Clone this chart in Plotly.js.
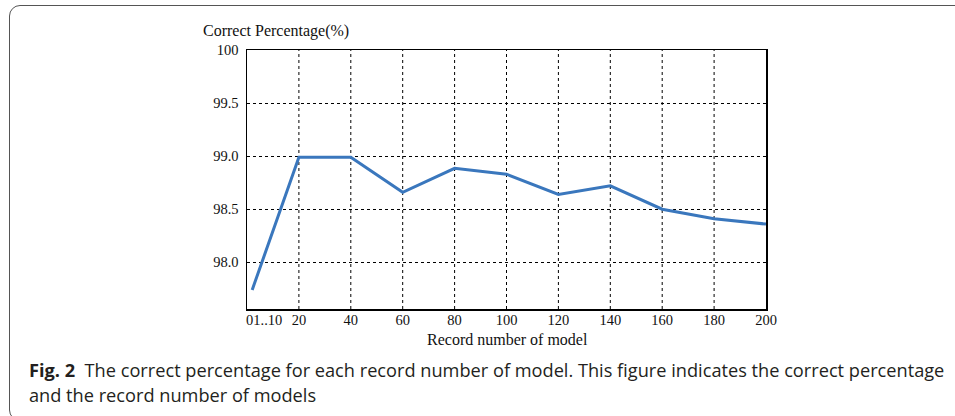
<!DOCTYPE html>
<html>
<head>
<meta charset="utf-8">
<script src="https://cdn.plot.ly/plotly-3.0.1.min.js"></script>
<style>
  html, body { margin: 0; padding: 0; background: #fff; overflow: hidden; }
  #frame { position: absolute; left: 9px; top: 5px; width: 1000px; height: 416px;
           border: 1.5px solid #555; border-radius: 11px; box-sizing: border-box; }
  #chart { position: absolute; left: 0; top: 0; width: 955px; height: 416px; }
</style>
</head>
<body>
<div id="frame"></div>
<div id="chart"></div>
<script>
// Data
const recordNumbers = [2, 20, 40, 60, 80, 100, 120, 140, 160, 180, 200];
const correctPct    = [97.74, 98.99, 98.99, 98.66, 98.885, 98.83, 98.64, 98.72, 98.50, 98.41, 98.36];

const xTickVals  = [1, 8, 20, 40, 60, 80, 100, 120, 140, 160, 180, 200];
const xTickText  = ['0', '1..10', '20', '40', '60', '80', '100', '120', '140', '160', '180', '200'];
const xGridVals  = [20, 40, 60, 80, 100, 120, 140, 160, 180];
const yTickVals  = [98, 98.5, 99, 99.5, 100];
const yTickText  = ['98.0', '98.5', '99.0', '99.5', '100'];

const yTitle = 'Correct Percentage(%)';
const xTitle = 'Record number of model';
const caption1 = '<b>Fig. 2</b>  The correct percentage for each record number of model. This figure indicates the correct percentage';
const caption2 = 'and the record number of models';

const serif = 'Liberation Serif, Times New Roman, serif';
const sans = 'Open Sans, Noto Sans, sans-serif';

const trace = {
  x: recordNumbers, y: correctPct, type: 'scatter', mode: 'lines',
  line: { color: '#3a77bd', width: 3 },
  hoverinfo: 'skip'
};

const gridShapes = xGridVals.map(v => ({
  type: 'line', xref: 'x', yref: 'paper', x0: v, x1: v, y0: 0, y1: 1,
  line: { color: '#000', width: 1, dash: '3px,3px' }, layer: 'below'
}));

const layout = {
  width: 955, height: 416,
  margin: { l: 247, r: 189, t: 50, b: 107 },
  paper_bgcolor: 'rgba(0,0,0,0)', plot_bgcolor: 'rgba(0,0,0,0)',
  showlegend: false,
  xaxis: {
    range: [0, 200], tickmode: 'array', tickvals: xTickVals, ticktext: xTickText,
    tickangle: 0, showgrid: false,
    zeroline: false, showline: true, linecolor: '#000', linewidth: 1.5, mirror: true,
    ticks: '', ticklabelstandoff: -3,
    tickfont: { family: serif, size: 14.5, color: '#111' }
  },
  yaxis: {
    range: [97.56, 100], tickmode: 'array', tickvals: yTickVals, ticktext: yTickText,
    showgrid: true, gridcolor: '#000', gridwidth: 1, griddash: '3px,3px',
    zeroline: false, showline: true, linecolor: '#000', linewidth: 1.5, mirror: true,
    ticks: 'outside', ticklen: 4, tickcolor: 'rgba(0,0,0,0)',
    tickfont: { family: serif, size: 14.5, color: '#111' }
  },
  shapes: gridShapes,
  annotations: [
    { text: yTitle, xref: 'paper', yref: 'paper', x: -0.0886, y: 1.0734,
      xanchor: 'left', yanchor: 'middle', showarrow: false,
      font: { family: serif, size: 16, color: '#111' } },
    { text: xTitle, xref: 'paper', yref: 'paper', x: 0.501, y: -0.118,
      xanchor: 'center', yanchor: 'middle', showarrow: false,
      font: { family: serif, size: 16, color: '#111' } },
    { text: caption1, xref: 'paper', yref: 'paper', x: -0.4239, y: -0.2355,
      xanchor: 'left', yanchor: 'middle', showarrow: false,
      font: { family: sans, size: 18.2, color: '#231f20' } },
    { text: caption2, xref: 'paper', yref: 'paper', x: -0.4239, y: -0.332,
      xanchor: 'left', yanchor: 'middle', showarrow: false,
      font: { family: sans, size: 18.2, color: '#231f20' } }
  ]
};

Plotly.newPlot('chart', [trace], layout, { staticPlot: true, displayModeBar: false });
</script>
</body>
</html>
